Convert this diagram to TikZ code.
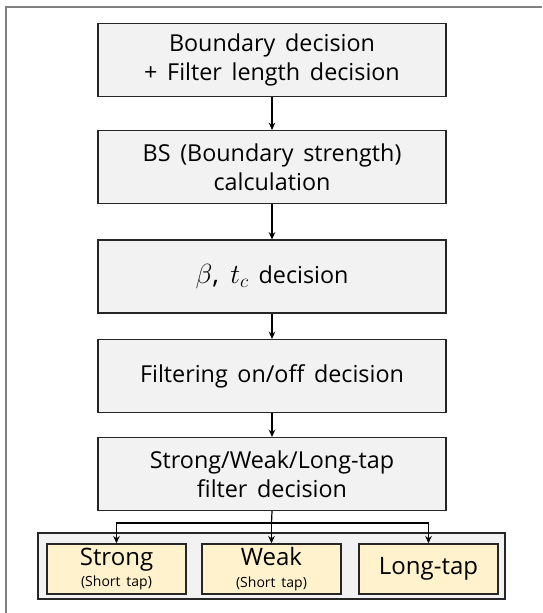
\documentclass[tikz,border=0pt]{standalone}
\usepackage{fontspec}
\setmainfont{Open Sans}[WordSpace=1.6]
\usetikzlibrary{arrows.meta}

\tikzset{every picture/.style={line width=0.75pt}}
\tikzset{
  stepbox/.style={draw={rgb, 255:red, 38; green, 38; blue, 38 }, fill={rgb, 255:red, 242; green, 242; blue, 242 }, line width=1.1pt, minimum width=261pt, minimum height=54.5pt, inner sep=0pt, align=center, font=\fontsize{17.5}{22}\selectfont},
  tapbox/.style={draw={rgb, 255:red, 38; green, 38; blue, 38 }, fill={rgb, 255:red, 255; green, 242; blue, 204 }, line width=1.1pt, minimum width=104pt, minimum height=37.5pt, inner sep=0pt, align=center, font=\fontsize{18}{17}\selectfont},
  flow/.style={-{Stealth[length=5.5pt,width=5pt]}, line width=0.9pt}
}

\begin{document}
\begin{tikzpicture}[x=0.75pt,y=0.75pt,yscale=-1,xscale=1]
		\useasboundingbox (0,0) rectangle (542,613);

		%Frame (cut at right and bottom)
		\draw [color={rgb, 255:red, 128; green, 128; blue, 128 }, line width=1.2pt] (6,613) -- (6,7) -- (542,7) ;

		% Main steps
		\node [stepbox] (bound) at (272,60) {Boundary decision\\+ Filter length decision};
		\node [stepbox] (bs) at (272,167) {BS (Boundary strength)\\calculation};
		\node [stepbox] (beta) at (272,276.5) {{\fontsize{20.5}{22}\selectfont$\beta$, $t_c$} decision};
		\node [stepbox] (onoff) at (272,376) {Filtering on/off decision};
		\node [stepbox] (select) at (272,474) {Strong/Weak/Long-tap\\filter decision};

		% Filter group
		\node [stepbox, minimum width=350.25pt, minimum height=49.5pt] (group) at (271.5,566) {};
		\node [tapbox] (strong) at (116.5,569) {Strong\\[-1pt]{\fontsize{10.5}{11}\selectfont(Short tap)}};
		\node [tapbox] (weak) at (271.5,569) {Weak\\[-1pt]{\fontsize{10.5}{11}\selectfont(Short tap)}};
		\node [tapbox] (long) at (428.5,569) {Long-tap};

		% Connectors
		\draw [flow] (bound) -- (bs) ;
		\draw [flow] (bs) -- (beta) ;
		\draw [flow] (beta) -- (onoff) ;
		\draw [flow] (onoff) -- (select) ;
		\coordinate (split) at (271.5,523) ;
		\draw [line width=0.9pt] (select.south) -- (split) ;
		\draw [flow] (split) -| (strong.north) ;
		\draw [flow] (split) -| (long.north) ;
		\draw [flow] (split) -- (weak.north) ;

\end{tikzpicture}
\end{document}
